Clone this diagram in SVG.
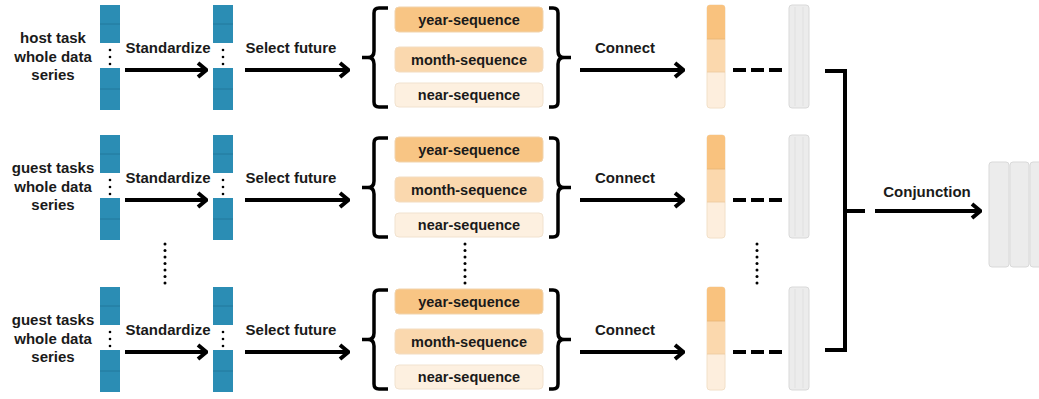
<svg xmlns="http://www.w3.org/2000/svg" width="1039" height="399" viewBox="0 0 1039 399">
<style>
text{font-family:"Liberation Sans",Arial,sans-serif;font-weight:bold;fill:#1a1a1a}
.lbl{font-size:15px;text-anchor:middle}
.seq{font-size:14.5px;text-anchor:middle}
.blue{fill:#2b8db4}
.div{stroke:#23789c;stroke-width:1}
.ln{stroke:#000;stroke-width:4;fill:none}
.br{stroke:#000;stroke-width:3.5;fill:none}
.yr{fill:#f8c584;stroke:#f1d3ac;stroke-width:1}
.mo{fill:#fad8ae;stroke:#f3dcc0;stroke-width:1}
.nr{fill:#fdf0e0;stroke:#f1e2cf;stroke-width:1}
.gray{fill:#ececec;stroke:#d9d9d9;stroke-width:1}
.gl{stroke:#dedede;stroke-width:0.8}
.dot{fill:#000}
</style>
<defs>
<marker id="ah" viewBox="0 0 12 18" refX="11" refY="9" markerWidth="12" markerHeight="18" markerUnits="userSpaceOnUse" orient="auto">
<path d="M2,2 L10.5,9 L2,16" stroke="#000" stroke-width="4" fill="none" stroke-linejoin="miter"/>
</marker>
<g id="bluecol">
<rect class="blue" x="0" y="5" width="20" height="38"/>
<line class="div" x1="0" y1="24" x2="20" y2="24"/>
<rect class="blue" x="0" y="68" width="20" height="42"/>
<line class="div" x1="0" y1="89" x2="20" y2="89"/>
<circle class="dot" cx="10" cy="50" r="1.3"/>
<circle class="dot" cx="10" cy="57" r="1.3"/>
<circle class="dot" cx="10" cy="64" r="1.3"/>
</g>
<g id="seqs">
<rect class="yr" x="395" y="7" width="148" height="25" rx="4"/>
<text class="seq" x="469" y="25">year-sequence</text>
<rect class="mo" x="395" y="47" width="148" height="25" rx="4"/>
<text class="seq" x="469" y="64.5">month-sequence</text>
<rect class="nr" x="395" y="83" width="148" height="24" rx="4"/>
<text class="seq" x="469" y="100">near-sequence</text>
<path class="br" d="M388,8 H379 Q374,8 374,13 V51 Q374,57.5 368,57.5 H362 M368,57.5 Q374,57.5 374,64 V102 Q374,107 379,107 H388"/>
<path class="br" d="M549,8 H553 Q558,8 558,13 V51 Q558,57.5 564,57.5 H571 M564,57.5 Q558,57.5 558,64 V102 Q558,107 553,107 H549"/>
</g>
<g id="outcol">
<rect x="707" y="5" width="18" height="103" rx="3" fill="#fdeedd" stroke="#f2e0c8" stroke-width="1"/>
<path d="M707,39 V8 Q707,5 710,5 H722 Q725,5 725,8 V39 Z" fill="#f9c27e"/>
<rect x="707" y="39" width="18" height="33" fill="#fbd8ad"/>
<line x1="707" y1="39" x2="725" y2="39" stroke="#e8b574" stroke-width="0.8"/>
<line x1="707" y1="72" x2="725" y2="72" stroke="#ecc9a0" stroke-width="0.8"/>
<line class="ln" x1="733" y1="70" x2="746" y2="70"/>
<line class="ln" x1="751" y1="70" x2="764" y2="70"/>
<line class="ln" x1="769" y1="70" x2="782" y2="70"/>
<rect class="gray" x="789" y="5" width="20" height="103" rx="3"/>
<line class="gl" x1="795" y1="7" x2="795" y2="106"/>
<line class="gl" x1="803" y1="7" x2="803" y2="106"/>
</g>
</defs>

<g id="row1">
<text class="lbl" x="53" y="43">host task</text>
<text class="lbl" x="53" y="62">whole data</text>
<text class="lbl" x="53" y="80">series</text>
<use href="#bluecol" x="100"/>
<use href="#bluecol" x="213"/>
<text class="lbl" x="168" y="53">Standardize</text>
<text class="lbl" x="291" y="53">Select future</text>
<use href="#seqs"/>
<text class="lbl" x="625" y="53">Connect</text>
<use href="#outcol"/>
</g>

<g id="row2" transform="translate(0,130)">
<text class="lbl" x="53" y="43">guest tasks</text>
<text class="lbl" x="53" y="62">whole data</text>
<text class="lbl" x="53" y="80">series</text>
<use href="#bluecol" x="100"/>
<use href="#bluecol" x="213"/>
<text class="lbl" x="168" y="53">Standardize</text>
<text class="lbl" x="291" y="53">Select future</text>
<use href="#seqs"/>
<text class="lbl" x="625" y="53">Connect</text>
<use href="#outcol"/>
</g>

<g id="row3" transform="translate(0,282)">
<text class="lbl" x="53" y="43">guest tasks</text>
<text class="lbl" x="53" y="62">whole data</text>
<text class="lbl" x="53" y="80">series</text>
<use href="#bluecol" x="100"/>
<use href="#bluecol" x="213"/>
<text class="lbl" x="168" y="53">Standardize</text>
<text class="lbl" x="291" y="53">Select future</text>
<use href="#seqs"/>
<text class="lbl" x="625" y="53">Connect</text>
<use href="#outcol"/>
</g>

<g id="ellipses">
<g id="dots1">
<circle class="dot" cx="165" cy="244" r="1.5"/><circle class="dot" cx="165" cy="250.5" r="1.5"/><circle class="dot" cx="165" cy="257" r="1.5"/><circle class="dot" cx="165" cy="263.5" r="1.5"/><circle class="dot" cx="165" cy="270" r="1.5"/><circle class="dot" cx="165" cy="276.5" r="1.5"/><circle class="dot" cx="165" cy="283" r="1.5"/>
</g>
<use href="#dots1" x="300"/>
<use href="#dots1" x="592"/>
</g>

<g id="final">
<rect class="gray" x="989" y="162" width="20" height="105" rx="3"/>
<rect class="gray" x="1010" y="162" width="19" height="105" rx="3"/>
<rect class="gray" x="1030" y="162" width="20" height="105" rx="3"/>
<text class="lbl" x="927" y="197">Conjunction</text>
</g>

<g id="connectors">
<line class="ln" x1="125" y1="70" x2="207" y2="70" marker-end="url(#ah)"/>
<line class="ln" x1="245" y1="70" x2="349" y2="70" marker-end="url(#ah)"/>
<line class="ln" x1="580" y1="70" x2="684" y2="70" marker-end="url(#ah)"/>
<line class="ln" x1="125" y1="200" x2="207" y2="200" marker-end="url(#ah)"/>
<line class="ln" x1="245" y1="200" x2="349" y2="200" marker-end="url(#ah)"/>
<line class="ln" x1="580" y1="200" x2="684" y2="200" marker-end="url(#ah)"/>
<line class="ln" x1="125" y1="352" x2="207" y2="352" marker-end="url(#ah)"/>
<line class="ln" x1="245" y1="352" x2="349" y2="352" marker-end="url(#ah)"/>
<line class="ln" x1="580" y1="352" x2="684" y2="352" marker-end="url(#ah)"/>
<path class="ln" d="M825,71 H845 V350 H825" stroke-linejoin="miter"/>
<line class="ln" x1="845" y1="211" x2="865" y2="211"/>
<line class="ln" x1="875" y1="211" x2="981" y2="211" marker-end="url(#ah)"/>
</g>
</svg>
